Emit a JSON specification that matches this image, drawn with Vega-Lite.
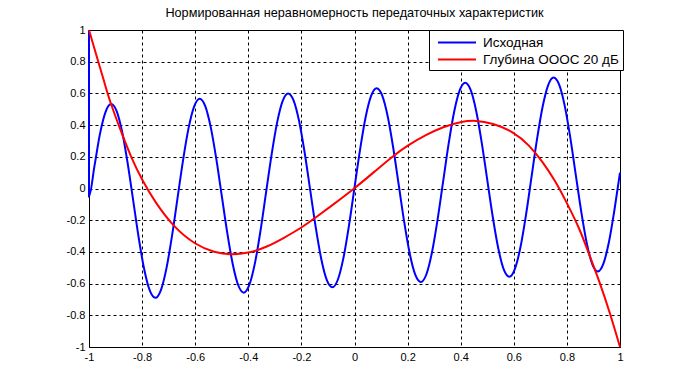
{
  "$schema": "https://vega.github.io/schema/vega-lite/v6.json",
  "autosize": {"type": "none"},
  "padding": {"left": 89, "top": 30, "right": 64, "bottom": 43},
  "width": 531,
  "height": 317,
  "background": "white",
  "title": {"text": "Нормированная неравномерность передаточных характеристик", "font": "Liberation Sans", "fontSize": 12.7, "fontWeight": "normal", "color": "black", "offset": 4},
  "config": {
    "view": {"stroke": "black", "strokeWidth": 1},
    "axis": {"labelFont": "Liberation Sans", "labelFontSize": 11, "labelColor": "black", "domain": false, "ticks": false, "grid": true, "gridColor": "black", "gridDash": [3, 3], "gridOpacity": 1, "gridWidth": 1, "title": null, "labelExpr": "'' + datum.value"}
  },
  "datasets": {
    "blue": [
      {"i":0,"x":-1,"y":1},
      {"i":1,"x":-1,"y":-0.05},
      {"i":2,"x":-0.97917,"y":0.144},
      {"i":3,"x":-0.95833,"y":0.348},
      {"i":4,"x":-0.9375,"y":0.484},
      {"i":5,"x":-0.91667,"y":0.533},
      {"i":6,"x":-0.89583,"y":0.488},
      {"i":7,"x":-0.875,"y":0.356},
      {"i":8,"x":-0.85417,"y":0.157},
      {"i":9,"x":-0.83333,"y":-0.078},
      {"i":10,"x":-0.8125,"y":-0.314},
      {"i":11,"x":-0.79167,"y":-0.513},
      {"i":12,"x":-0.77083,"y":-0.645},
      {"i":13,"x":-0.75,"y":-0.69},
      {"i":14,"x":-0.72917,"y":-0.641},
      {"i":15,"x":-0.70833,"y":-0.504},
      {"i":16,"x":-0.6875,"y":-0.301},
      {"i":17,"x":-0.66667,"y":-0.062},
      {"i":18,"x":-0.64583,"y":0.178},
      {"i":19,"x":-0.625,"y":0.381},
      {"i":20,"x":-0.60417,"y":0.517},
      {"i":21,"x":-0.58333,"y":0.567},
      {"i":22,"x":-0.5625,"y":0.522},
      {"i":23,"x":-0.54167,"y":0.389},
      {"i":24,"x":-0.52083,"y":0.19},
      {"i":25,"x":-0.5,"y":-0.045},
      {"i":26,"x":-0.47917,"y":-0.28},
      {"i":27,"x":-0.45833,"y":-0.479},
      {"i":28,"x":-0.4375,"y":-0.612},
      {"i":29,"x":-0.41667,"y":-0.657},
      {"i":30,"x":-0.39583,"y":-0.607},
      {"i":31,"x":-0.375,"y":-0.471},
      {"i":32,"x":-0.35417,"y":-0.268},
      {"i":33,"x":-0.33333,"y":-0.028},
      {"i":34,"x":-0.3125,"y":0.211},
      {"i":35,"x":-0.29167,"y":0.414},
      {"i":36,"x":-0.27083,"y":0.551},
      {"i":37,"x":-0.25,"y":0.6},
      {"i":38,"x":-0.22917,"y":0.555},
      {"i":39,"x":-0.20833,"y":0.423},
      {"i":40,"x":-0.1875,"y":0.224},
      {"i":41,"x":-0.16667,"y":-0.012},
      {"i":42,"x":-0.14583,"y":-0.247},
      {"i":43,"x":-0.125,"y":-0.446},
      {"i":44,"x":-0.10417,"y":-0.578},
      {"i":45,"x":-0.08333,"y":-0.623},
      {"i":46,"x":-0.0625,"y":-0.574},
      {"i":47,"x":-0.04167,"y":-0.438},
      {"i":48,"x":-0.02083,"y":-0.234},
      {"i":49,"x":0,"y":0.005},
      {"i":50,"x":0.02083,"y":0.244},
      {"i":51,"x":0.04167,"y":0.448},
      {"i":52,"x":0.0625,"y":0.584},
      {"i":53,"x":0.08333,"y":0.633},
      {"i":54,"x":0.10417,"y":0.588},
      {"i":55,"x":0.125,"y":0.456},
      {"i":56,"x":0.14583,"y":0.257},
      {"i":57,"x":0.16667,"y":0.022},
      {"i":58,"x":0.1875,"y":-0.214},
      {"i":59,"x":0.20833,"y":-0.413},
      {"i":60,"x":0.22917,"y":-0.545},
      {"i":61,"x":0.25,"y":-0.59},
      {"i":62,"x":0.27083,"y":-0.541},
      {"i":63,"x":0.29167,"y":-0.404},
      {"i":64,"x":0.3125,"y":-0.201},
      {"i":65,"x":0.33333,"y":0.038},
      {"i":66,"x":0.35417,"y":0.278},
      {"i":67,"x":0.375,"y":0.481},
      {"i":68,"x":0.39583,"y":0.617},
      {"i":69,"x":0.41667,"y":0.667},
      {"i":70,"x":0.4375,"y":0.622},
      {"i":71,"x":0.45833,"y":0.489},
      {"i":72,"x":0.47917,"y":0.29},
      {"i":73,"x":0.5,"y":0.055},
      {"i":74,"x":0.52083,"y":-0.18},
      {"i":75,"x":0.54167,"y":-0.379},
      {"i":76,"x":0.5625,"y":-0.512},
      {"i":77,"x":0.58333,"y":-0.557},
      {"i":78,"x":0.60417,"y":-0.507},
      {"i":79,"x":0.625,"y":-0.371},
      {"i":80,"x":0.64583,"y":-0.168},
      {"i":81,"x":0.66667,"y":0.072},
      {"i":82,"x":0.6875,"y":0.311},
      {"i":83,"x":0.70833,"y":0.514},
      {"i":84,"x":0.72917,"y":0.651},
      {"i":85,"x":0.75,"y":0.7},
      {"i":86,"x":0.77083,"y":0.655},
      {"i":87,"x":0.79167,"y":0.523},
      {"i":88,"x":0.8125,"y":0.324},
      {"i":89,"x":0.83333,"y":0.088},
      {"i":90,"x":0.85417,"y":-0.147},
      {"i":91,"x":0.875,"y":-0.346},
      {"i":92,"x":0.89583,"y":-0.478},
      {"i":93,"x":0.91667,"y":-0.523},
      {"i":94,"x":0.9375,"y":-0.474},
      {"i":95,"x":0.95833,"y":-0.338},
      {"i":96,"x":0.97917,"y":-0.134},
      {"i":97,"x":1,"y":0.1}
    ],
    "red": [
      {"x":-1,"y":1},
      {"x":-0.967,"y":0.81},
      {"x":-0.942,"y":0.67},
      {"x":-0.923,"y":0.557},
      {"x":-0.879,"y":0.358},
      {"x":-0.84,"y":0.19},
      {"x":-0.8,"y":0.054},
      {"x":-0.753,"y":-0.082},
      {"x":-0.678,"y":-0.25},
      {"x":-0.6,"y":-0.354},
      {"x":-0.527,"y":-0.406},
      {"x":-0.464,"y":-0.419},
      {"x":-0.4,"y":-0.408},
      {"x":-0.337,"y":-0.375},
      {"x":-0.262,"y":-0.308},
      {"x":-0.2,"y":-0.248},
      {"x":-0.148,"y":-0.186},
      {"x":-0.086,"y":-0.108},
      {"x":0,"y":0},
      {"x":0.078,"y":0.11},
      {"x":0.147,"y":0.208},
      {"x":0.2,"y":0.272},
      {"x":0.267,"y":0.338},
      {"x":0.335,"y":0.39},
      {"x":0.4,"y":0.422},
      {"x":0.457,"y":0.431},
      {"x":0.519,"y":0.413},
      {"x":0.6,"y":0.358},
      {"x":0.658,"y":0.274},
      {"x":0.708,"y":0.17},
      {"x":0.758,"y":0.044},
      {"x":0.8,"y":-0.092},
      {"x":0.847,"y":-0.249},
      {"x":0.884,"y":-0.417},
      {"x":0.922,"y":-0.584},
      {"x":0.96,"y":-0.773},
      {"x":1,"y":-1}
    ]
  },
  "encoding": {
    "x": {"field": "x", "type": "quantitative", "scale": {"domain": [-1, 1], "nice": false, "zero": false}, "axis": {"values": [-1,-0.8,-0.6,-0.4,-0.2,0,0.2,0.4,0.6,0.8,1], "labelPadding": 4, "labelFlush": false, "labelBound": false}},
    "y": {"field": "y", "type": "quantitative", "scale": {"domain": [-1, 1], "nice": false, "zero": false}, "axis": {"values": [-1,-0.8,-0.6,-0.4,-0.2,0,0.2,0.4,0.6,0.8,1], "labelPadding": 4, "labelFlush": false}},
    "color": {"field": "s", "type": "nominal", "scale": {"domain": ["Исходная", "Глубина ОООС 20 дБ"], "range": ["#0000ff", "#ff0000"]},
      "legend": {"title": null, "orient": "none", "legendX": 340, "legendY": 0, "direction": "vertical", "fillColor": "white", "strokeColor": "black", "padding": 4, "symbolType": "M-0.47,0H4.6", "symbolSize": 225, "symbolStrokeWidth": 2, "labelFont": "Liberation Sans", "labelFontSize": 13.5, "labelColor": "black", "labelOffset": 33, "rowPadding": 2, "labelLimit": 300}}
  },
  "layer": [
    {"data": {"name": "blue"}, "transform": [{"calculate": "'Исходная'", "as": "s"}], "mark": {"type": "line", "strokeWidth": 2, "interpolate": "monotone"}, "encoding": {"order": {"field": "i", "type": "quantitative"}}},
    {"data": {"name": "red"}, "transform": [{"calculate": "'Глубина ОООС 20 дБ'", "as": "s"}], "mark": {"type": "line", "strokeWidth": 2, "interpolate": "basis"}}
  ]
}
